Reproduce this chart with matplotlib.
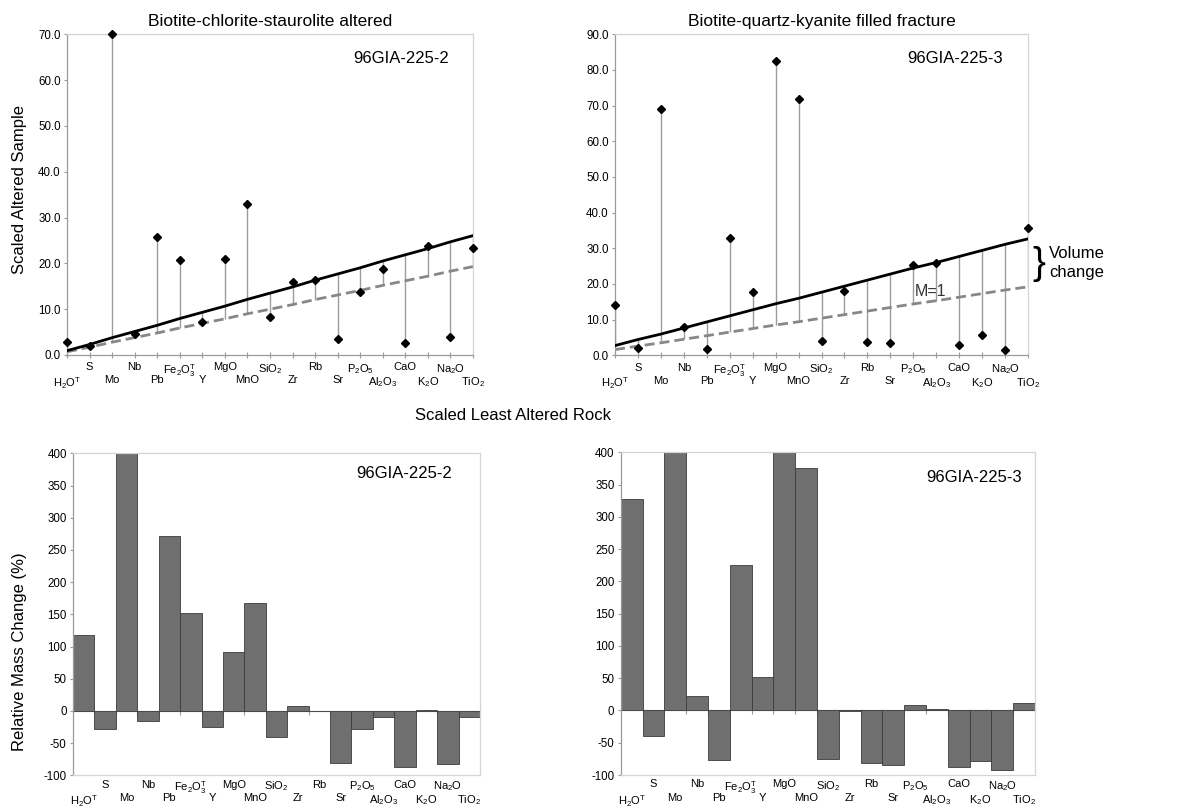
import numpy as np
import matplotlib
matplotlib.use("Agg")
import matplotlib.pyplot as plt
from matplotlib.ticker import FormatStrFormatter, MultipleLocator

plt.rcParams['font.family'] = ['Liberation Sans', 'DejaVu Sans']
plt.rcParams['mathtext.fontset'] = 'custom'
plt.rcParams['mathtext.rm'] = 'Liberation Sans'
plt.rcParams['mathtext.it'] = 'Liberation Sans'
plt.rcParams['mathtext.bf'] = 'Liberation Sans:bold'
plt.rcParams['axes.unicode_minus'] = False

# ---------------- data ----------------
elements = ['H$_2$O$^\\mathrm{T}$', 'S', 'Mo', 'Nb', 'Pb', 'Fe$_2$O$_3^\\mathrm{T}$', 'Y',
            'MgO', 'MnO', 'SiO$_2$', 'Zr', 'Rb', 'Sr', 'P$_2$O$_5$', 'Al$_2$O$_3$',
            'CaO', 'K$_2$O', 'Na$_2$O', 'TiO$_2$']

# scaled least altered rock (M=1 line) and scaled altered samples
least_altered_225_2 = [0.7, 1.7, 2.8, 3.8, 4.8, 5.9, 6.9, 7.9, 9.0, 10.0,
                       11.0, 12.1, 13.1, 14.1, 15.2, 16.2, 17.2, 18.3, 19.3]
altered_225_2 = [2.8, 2.0, 70.0, 4.5, 25.7, 20.8, 7.2, 21.0, 33.0, 8.2,
                 15.9, 16.3, 3.5, 13.8, 18.8, 2.6, 23.9, 3.9, 23.4]
isocon_slope_225_2 = 1.35

least_altered_225_3 = [1.6, 2.6, 3.5, 4.5, 5.5, 6.5, 7.5, 8.5, 9.4, 10.4,
                       11.4, 12.4, 13.4, 14.4, 15.3, 16.3, 17.3, 18.3, 19.2]
altered_225_3 = [14.0, 2.0, 69.0, 8.0, 1.8, 32.8, 17.7, 82.5, 71.9, 3.9,
                 18.0, 3.6, 3.4, 25.3, 25.9, 3.0, 5.8, 1.4, 35.6]
isocon_slope_225_3 = 1.70

# relative mass change (%)
mass_change_225_2 = [118, -28, 1600, -16, 272, 152, -25, 92, 167, -41,
                     7, 0, -80, -28, -9, -87, 2, -83, -10]
mass_change_225_3 = [328, -39, 1240, 22, -77, 225, 52, 500, 375, -75,
                     -1, -82, -84, 8, 3, -87, -79, -93, 12]

titles = ['Biotite-chlorite-staurolite altered', 'Biotite-quartz-kyanite filled fracture']
sample_ids = ['96GIA-225-2', '96GIA-225-3']

# ---------------- figure ----------------
fig = plt.figure(figsize=(11.8, 8.1), dpi=100)

W, H = 1180.0, 810.0
def rect(l, r, t, b):
    return [l / W, 1 - b / H, (r - l) / W, (b - t) / H]

ax_tl = fig.add_axes(rect(67, 473, 34.3, 355))
ax_tr = fig.add_axes(rect(615, 1028, 34.3, 355.3))
ax_bl = fig.add_axes(rect(73, 480, 453.3, 775.4))
ax_br = fig.add_axes(rect(620.7, 1035, 452.3, 775))

SPINE_DARK = '#9a9a9a'
SPINE_LIGHT = '#d4d4d4'
TICK_FS = 8.0

idx = np.arange(len(elements))
lower = idx[0::2]
upper = idx[1::2]


def style_frame(ax):
    ax.spines['left'].set_color(SPINE_DARK)
    ax.spines['bottom'].set_color(SPINE_DARK)
    ax.spines['top'].set_color(SPINE_LIGHT)
    ax.spines['right'].set_color(SPINE_LIGHT)
    for s in ax.spines.values():
        s.set_linewidth(0.9)
    ax.tick_params(axis='y', direction='out', length=2.5, width=0.8, color=SPINE_DARK,
                   labelsize=8.3, pad=2)


def top_panel(ax, least, altered, slope, ymax, title, sid):
    least = np.asarray(least)
    altered = np.asarray(altered)
    iso = slope * least
    hi = np.maximum.reduce([altered, iso, least])
    lo = np.minimum.reduce([altered, iso, least])
    ax.vlines(idx, lo, hi, color='#9c9c9c', lw=1.0, zorder=1)
    ax.plot(idx, least, color='#878787', lw=2.0, dashes=(3.6, 1.8), zorder=2)
    ax.plot(idx, iso, color='black', lw=2.0, zorder=3)
    ax.plot(idx, altered, ls='none', marker='D', ms=4.0, color='black', zorder=4,
            clip_on=False)
    ax.set_xlim(0, len(elements) - 1)
    ax.set_ylim(0, ymax)
    ax.yaxis.set_major_locator(MultipleLocator(10))
    ax.yaxis.set_major_formatter(FormatStrFormatter('%.1f'))
    style_frame(ax)
    ax.set_xticks(lower, [elements[i] for i in lower])
    ax.set_xticks(upper, [elements[i] for i in upper], minor=True)
    ax.tick_params(axis='x', which='both', direction='inout', length=4.5, width=0.8,
                   color=SPINE_DARK, labelsize=TICK_FS)
    ax.tick_params(axis='x', which='major', pad=12.5)
    ax.tick_params(axis='x', which='minor', pad=3.0)
    ax.set_title(title, fontsize=12.5, pad=6)
    ax.text(0.94, 0.925, sid, transform=ax.transAxes, ha='right', va='center', fontsize=12)


def bottom_panel(ax, values, sid, idpos):
    ax.bar(idx, values, width=1.0, color='#6f6f6f', edgecolor='#3c3c3c', linewidth=0.6, zorder=2)
    ax.set_xlim(-0.5, len(elements) - 0.5)
    ax.set_ylim(-100, 400)
    ax.yaxis.set_major_locator(MultipleLocator(50))
    style_frame(ax)
    ax.spines['bottom'].set_color(SPINE_LIGHT)
    ax.set_xticks(lower, [elements[i] for i in lower])
    ax.set_xticks(upper, [elements[i] for i in upper], minor=True)
    ax.tick_params(axis='x', which='both', length=0, labelsize=TICK_FS)
    ax.tick_params(axis='x', which='major', pad=13)
    ax.tick_params(axis='x', which='minor', pad=3.0)
    # category axis crossing at zero
    sec = ax.secondary_xaxis(0, transform=ax.transData)
    sec.set_xticks(np.arange(0.5, len(elements) - 1, 1.0))
    sec.set_xticklabels([])
    sec.spines['bottom'].set_color('#b0b0b0')
    sec.spines['bottom'].set_linewidth(0.9)
    sec.tick_params(axis='x', direction='out', length=3, width=0.8, color='#9a9a9a')
    ax.text(idpos[0], idpos[1], sid, transform=ax.transAxes, ha='right', va='center', fontsize=12)


top_panel(ax_tl, least_altered_225_2, altered_225_2, isocon_slope_225_2, 70, titles[0], sample_ids[0])
top_panel(ax_tr, least_altered_225_3, altered_225_3, isocon_slope_225_3, 90, titles[1], sample_ids[1])
bottom_panel(ax_bl, mass_change_225_2, sample_ids[0], (0.931, 0.936))
bottom_panel(ax_br, mass_change_225_3, sample_ids[1], (0.969, 0.923))

# axis labels
fig.text(20 / W, 1 - 190 / H, 'Scaled Altered Sample', rotation=90, ha='center', va='center', fontsize=12)
fig.text(20 / W, 1 - 652 / H, 'Relative Mass Change (%)', rotation=90, ha='center', va='center', fontsize=12)
fig.text(513 / W, 1 - 415 / H, 'Scaled Least Altered Rock', ha='center', va='center', fontsize=12)

# annotations on right panel
fig.text(930 / W, 1 - 292 / H, 'M=1', ha='center', va='center', fontsize=11.5, color='#333333')
fig.text(1039 / W, 1 - 264 / H, '}', ha='center', va='center', fontsize=28)
fig.text(1049 / W, 1 - 253 / H, 'Volume', ha='left', va='center', fontsize=12)
fig.text(1049 / W, 1 - 273 / H, 'change', ha='left', va='center', fontsize=12)

fig.savefig('out.png', dpi=100)
